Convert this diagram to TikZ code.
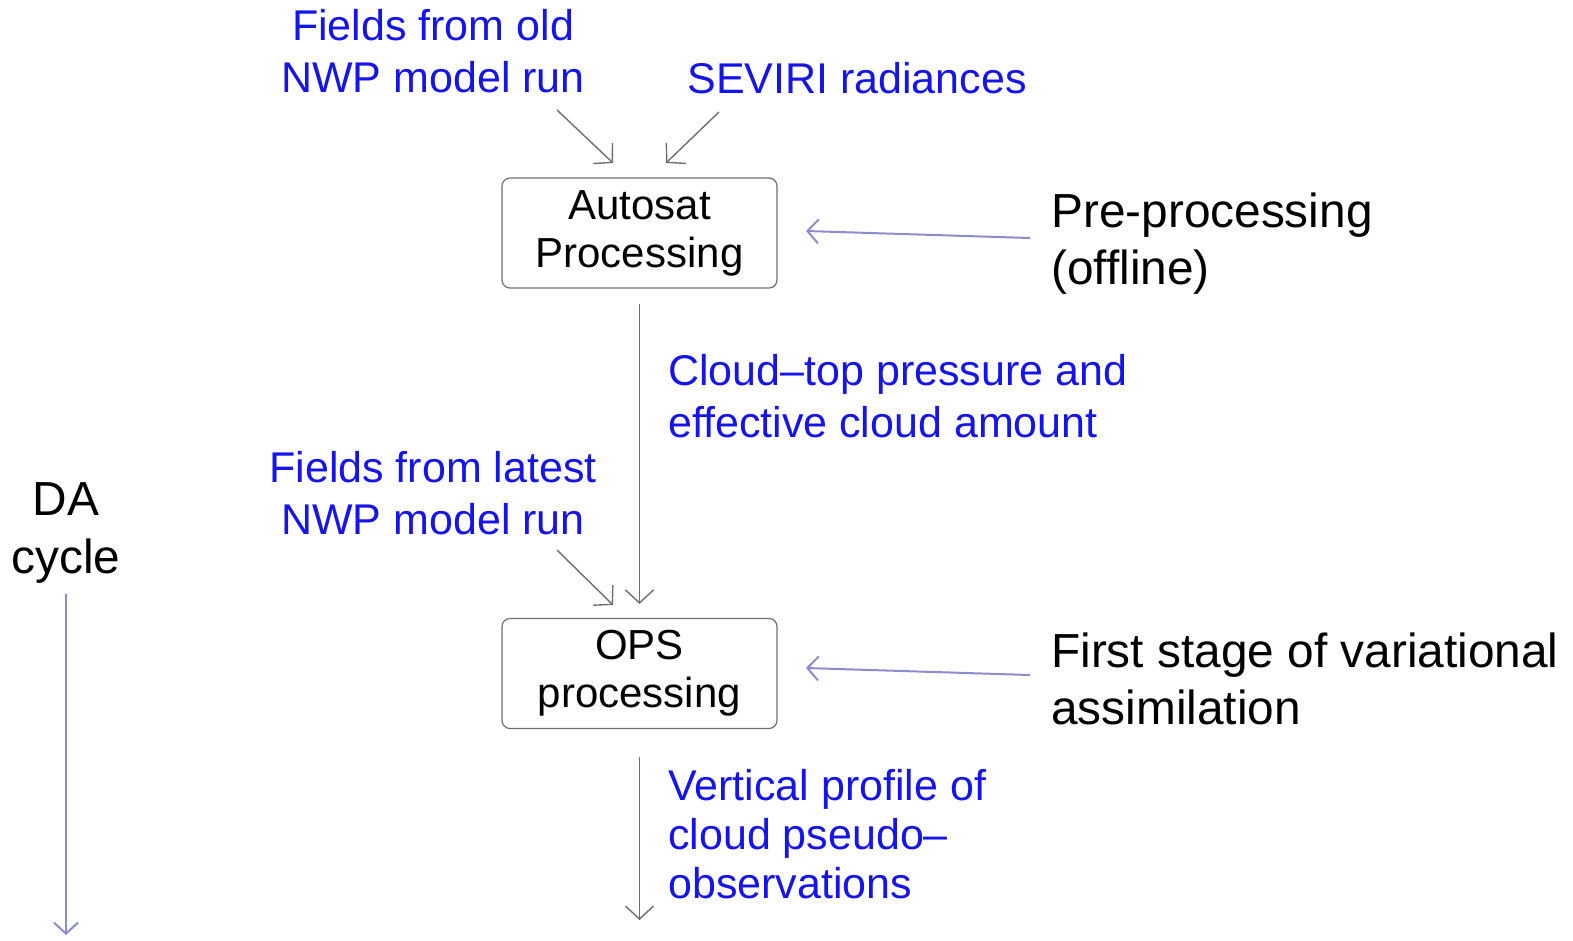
\documentclass[tikz,border=0pt]{standalone}
\usepackage{fontspec}
\setmainfont{Liberation Sans}
\usetikzlibrary{arrows.meta}
\definecolor{infoblue}{RGB}{20,20,235}
\definecolor{flowgray}{RGB}{110,110,110}
\definecolor{stagepurple}{RGB}{140,140,205}
\tikzset{
  bluetext/.style={text=infoblue, inner sep=0pt, font=\fontsize{43}{52}\selectfont},
  blacktext/.style={text=black, inner sep=0pt, font=\fontsize{47.8}{57}\selectfont},
  procbox/.style={draw=flowgray, line width=1.2pt, rounded corners=8pt,
    minimum width=275pt, minimum height=110pt, inner sep=0pt, align=center,
    font=\fontsize{42}{48}\selectfont},
  grayarrow/.style={draw=flowgray, line width=1.4pt, -{Straight Barb[length=13pt,width=28pt]}},
  purplearrow/.style={draw=stagepurple, line width=2pt, -{Straight Barb[length=11pt,width=24pt]}}
}
\begin{document}
\begin{tikzpicture}[x=1pt,y=-1pt]
\useasboundingbox (0,0) rectangle (1573,940);

% processing boxes
\node[procbox] (autosat) at (639.5,233) {Autosat\\Processing};
\node[procbox] (ops) at (639.5,673.5) {OPS\\processing};

% inputs
\node[bluetext, align=center] (old) at (433,51) {Fields from old\\NWP model run};
\node[bluetext] (seviri) at (857,78) {SEVIRI radiances};
\node[bluetext, align=center] (latest) at (433,493) {Fields from latest\\NWP model run};

% products
\node[bluetext, align=left, anchor=west] (ctp) at (668,396) {Cloud--top pressure and\\effective cloud amount};
\node[bluetext, align=left, anchor=west, font=\fontsize{43}{49}\selectfont] (prof) at (668,834)
  {Vertical profile of\\cloud pseudo--\\observations};

% stage labels
\node[blacktext, align=left, anchor=west] (pre) at (1051,244) {Pre-processing\\(offline)};
\node[blacktext, align=left, anchor=west] (first) at (1051,679) {First stage of variational\\assimilation};
\node[blacktext, align=center, font=\fontsize{47.8}{58}\selectfont] (da) at (66,533) {DA\\cycle};

% arrow end points
\coordinate (oldA) at (557,110);   \coordinate (oldB) at (613,163);
\coordinate (sevA) at (719,112);   \coordinate (sevB) at (666,163);
\coordinate (latA) at (557,550);   \coordinate (latB) at (613,605);
\coordinate (preA) at (1030,238);  \coordinate (preB) at (806,231);
\coordinate (firA) at (1030,675);  \coordinate (firB) at (806,668);
\coordinate (daA) at (66,594);     \coordinate (daB) at (66,935);
\coordinate (opsOut) at (639.5,920);

% data flow
\draw[grayarrow] (oldA) -- (oldB);
\draw[grayarrow] (sevA) -- (sevB);
\draw[grayarrow] (latA) -- (latB);
\draw[grayarrow, shorten <=15pt, shorten >=14pt] (autosat) -- (ops);
\draw[grayarrow, shorten <=28pt] (ops.south) -- (opsOut);

% stage pointers
\draw[purplearrow] (preA) -- (preB);
\draw[purplearrow] (firA) -- (firB);
\draw[purplearrow] (daA) -- (daB);
\end{tikzpicture}
\end{document}
